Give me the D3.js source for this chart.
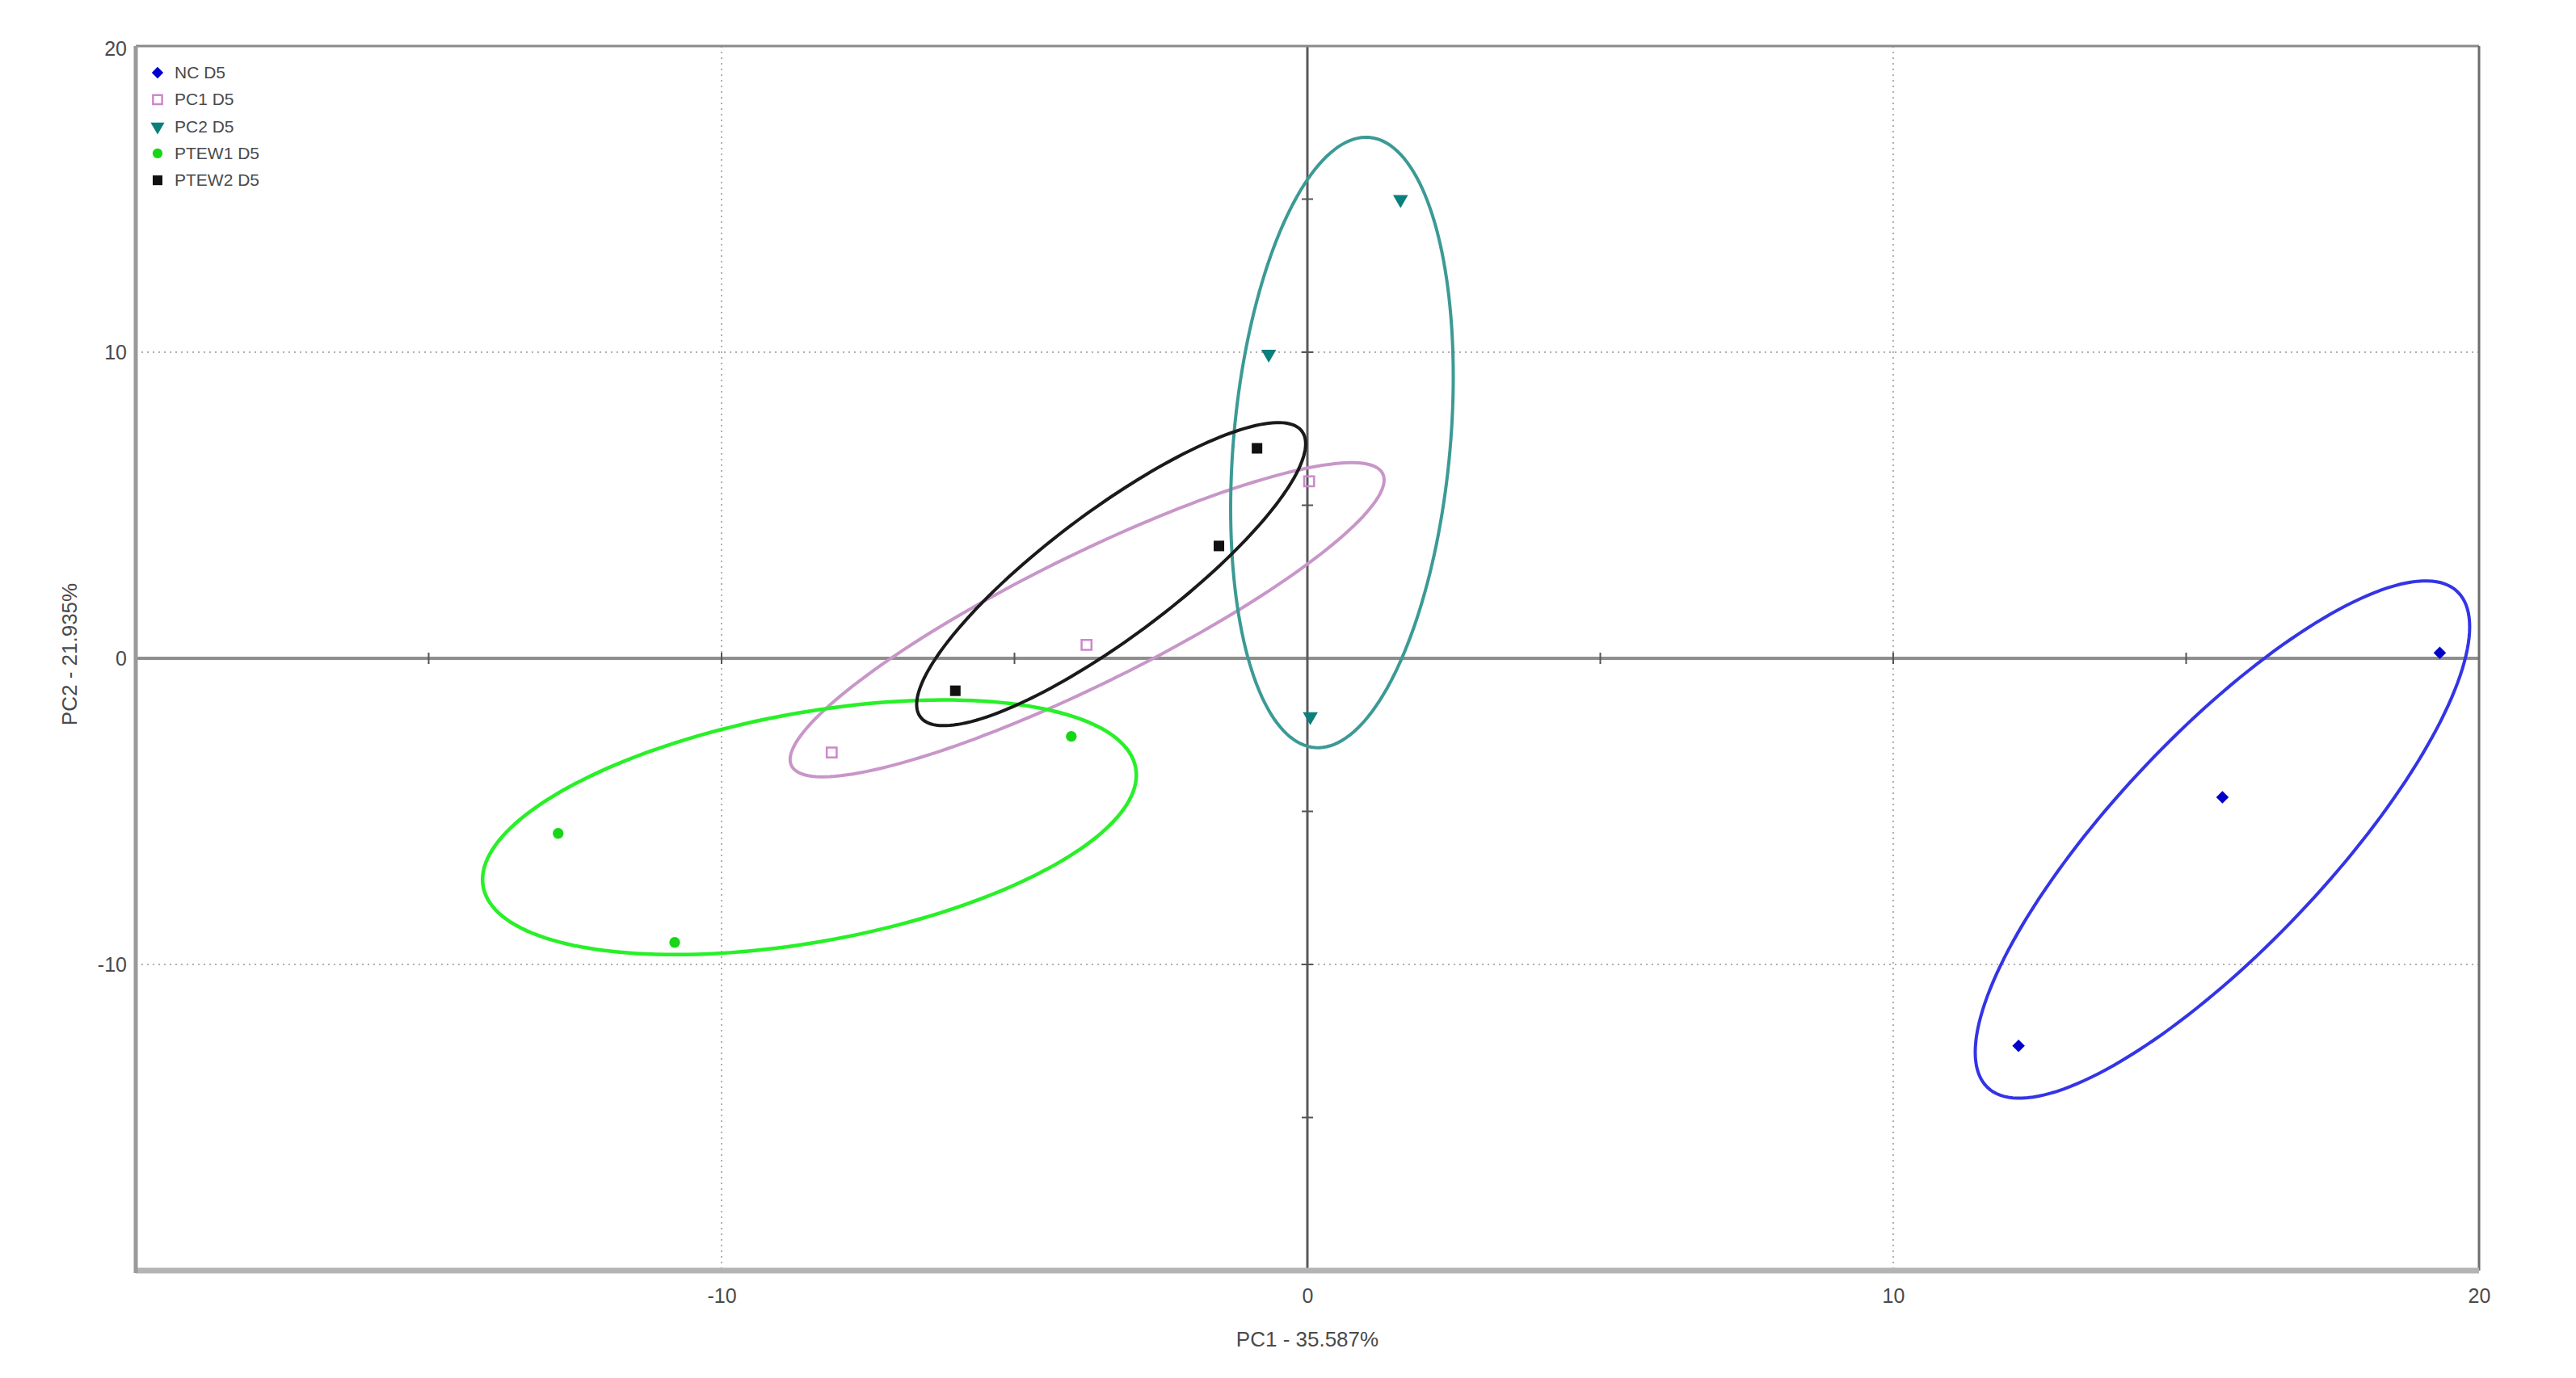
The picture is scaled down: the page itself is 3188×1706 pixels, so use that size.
<!DOCTYPE html>
<html>
<head>
<meta charset="utf-8">
<script src="https://cdn.jsdelivr.net/npm/d3@7"></script>
<style>
  html, body { margin: 0; padding: 0; background: #ffffff; }
  svg { display: block; }
</style>
</head>
<body>
<script>
// ---------------- data ----------------
const groups = ["NC D5", "PC1 D5", "PC2 D5", "PTEW1 D5", "PTEW2 D5"];
const pc1Values = [
  [19.33, 15.62, 12.14],
  [0.03, -3.77, -8.12],
  [1.59, -0.66, 0.05],
  [-12.79, -10.80, -4.03],
  [-0.86, -1.51, -6.01]
];
const pc2Values = [
  [0.18, -4.54, -12.66],
  [5.78, 0.44, -3.08],
  [14.99, 9.94, -1.90],
  [-5.72, -9.28, -2.55],
  [6.86, 3.67, -1.06]
];
// confidence ellipses (data units): centre, half-extent along PC1 / PC2, correlation
const ellipseCx  = [15.62, -3.76, 0.59, -8.50, -3.35];
const ellipseCy  = [-5.92, 1.26, 7.05, -5.52, 2.75];
const ellipseRx  = [4.22, 5.07, 1.90, 5.58, 3.32];
const ellipseRy  = [8.45, 5.13, 9.97, 4.16, 4.95];
const ellipseRho = [0.822, 0.89, 0.216, 0.41, 0.86];

const xTickValues = [-10, 0, 10, 20];
const yTickValues = [-10, 0, 10, 20];
const gridValues = [-10, 10];
const minorTickValues = [-15, -10, -5, 5, 10, 15];
const xTitle = "PC1 - 35.587%";
const yTitle = "PC2 - 21.935%";

// ---------------- styles ----------------
const markerColors  = ["#0000cc", "#cc88cc", "#0b7f7c", "#16d616", "#111111"];
const ellipseColors = ["#3434e6", "#c896c8", "#3c9a95", "#28f028", "#1a1a1a"];
const symbolTypes   = [d3.symbolSquare, d3.symbolSquare, d3.symbolTriangle, d3.symbolCircle, d3.symbolSquare];
const symbolSizes   = [120, 150, 150, 140, 170];
const symbolRotate  = [45, 0, 180, 0, 0];
const symbolFilled  = [true, false, true, true, true];

const W = 3188, H = 1706;
const L = 168, R = 3068, T = 57, B = 1573;

const svg = d3.select("body").append("svg").attr("width", W).attr("height", H);
const font = "'Liberation Sans', Arial, sans-serif";

const x = d3.scaleLinear().domain([-20, 20]).range([L, R]);
const y = d3.scaleLinear().domain([-20, 20]).range([B, T]);

// grid (dotted)
const grid = svg.append("g");
grid.selectAll("line.gx").data(gridValues).join("line")
  .attr("x1", d => x(d)).attr("x2", d => x(d)).attr("y1", T).attr("y2", B)
  .attr("stroke", "#b0b0b0").attr("stroke-width", 2).attr("stroke-dasharray", "2,5");
grid.selectAll("line.gy").data(gridValues).join("line")
  .attr("y1", d => y(d)).attr("y2", d => y(d)).attr("x1", L).attr("x2", R)
  .attr("stroke", "#b0b0b0").attr("stroke-width", 2).attr("stroke-dasharray", "2,5");

// zero axes
svg.append("line").attr("x1", L).attr("x2", R).attr("y1", y(0)).attr("y2", y(0))
  .attr("stroke", "#8e8e8e").attr("stroke-width", 4);
svg.append("line").attr("x1", x(0)).attr("x2", x(0)).attr("y1", T).attr("y2", B)
  .attr("stroke", "#5a5a5a").attr("stroke-width", 3);
// small ticks on zero axes
svg.append("g").selectAll("line").data(minorTickValues).join("line")
  .attr("x1", d => x(d)).attr("x2", d => x(d)).attr("y1", y(0) - 7).attr("y2", y(0) + 7)
  .attr("stroke", "#555").attr("stroke-width", 2);
svg.append("g").selectAll("line").data(minorTickValues).join("line")
  .attr("y1", d => y(d)).attr("y2", d => y(d)).attr("x1", x(0) - 7).attr("x2", x(0) + 7)
  .attr("stroke", "#555").attr("stroke-width", 2);

// frame
svg.append("line").attr("x1", L).attr("x2", R).attr("y1", T).attr("y2", T).attr("stroke", "#8a8a8a").attr("stroke-width", 3);
svg.append("line").attr("x1", R).attr("x2", R).attr("y1", T).attr("y2", B).attr("stroke", "#6e6e6e").attr("stroke-width", 3);
svg.append("line").attr("x1", L).attr("x2", R).attr("y1", B).attr("y2", B).attr("stroke", "#b4b4b4").attr("stroke-width", 7);
svg.append("line").attr("x1", L).attr("x2", L).attr("y1", T).attr("y2", B + 3).attr("stroke", "#9a9a9a").attr("stroke-width", 5);

// axes labels via d3 axes
const fmt = d => String(d);
const xAxis = svg.append("g").attr("transform", `translate(0,${B})`)
  .call(d3.axisBottom(x).tickValues(xTickValues).tickSize(0).tickPadding(22).tickFormat(fmt));
const yAxis = svg.append("g").attr("transform", `translate(${L},0)`)
  .call(d3.axisLeft(y).tickValues(yTickValues).tickSize(0).tickPadding(11).tickFormat(fmt));
[xAxis, yAxis].forEach(a => {
  a.select(".domain").remove();
  a.selectAll("text").attr("font-family", font).attr("font-size", 25).attr("fill", "#4a4a4a");
});
yAxis.selectAll("text").filter(d => d === 20).attr("dy", "0.45em");

svg.append("text").attr("x", x(0)).attr("y", 1667).attr("text-anchor", "middle")
  .attr("font-family", font).attr("font-size", 26).attr("fill", "#4a4a4a").text(xTitle);
svg.append("text").attr("transform", `translate(95,${y(0) - 5}) rotate(-90)`).attr("text-anchor", "middle")
  .attr("font-family", font).attr("font-size", 26).attr("fill", "#4a4a4a").text(yTitle);

// ellipses
const line = d3.line().x(p => x(p[0])).y(p => y(p[1])).curve(d3.curveLinearClosed);
const tSteps = d3.range(0, 360, 2).map(a => a * Math.PI / 180);
const ellG = svg.append("g");
groups.forEach((g, i) => {
  const s = Math.sqrt(1 - ellipseRho[i] * ellipseRho[i]);
  const pts = tSteps.map(t => [
    ellipseCx[i] + ellipseRx[i] * Math.cos(t),
    ellipseCy[i] + ellipseRy[i] * (ellipseRho[i] * Math.cos(t) + s * Math.sin(t))
  ]);
  ellG.append("path").attr("d", line(pts)).attr("fill", "none")
    .attr("stroke", ellipseColors[i]).attr("stroke-width", i === 3 ? 4.5 : 4);
});

// points
const ptG = svg.append("g");
groups.forEach((g, i) => {
  const sym = d3.symbol().type(symbolTypes[i]).size(symbolSizes[i]);
  const data = pc1Values[i].map((v, j) => [v, pc2Values[i][j]]);
  ptG.selectAll(null).data(data).join("path")
    .attr("d", sym)
    .attr("transform", d => `translate(${x(d[0])},${y(d[1])}) rotate(${symbolRotate[i]})`)
    .attr("fill", symbolFilled[i] ? markerColors[i] : "none")
    .attr("stroke", symbolFilled[i] ? "none" : markerColors[i])
    .attr("stroke-width", symbolFilled[i] ? 0 : 2.5);
});

// legend
const leg = svg.append("g");
groups.forEach((g, i) => {
  const cy = 90 + i * 33.3;
  const sym = d3.symbol().type(symbolTypes[i]).size(symbolSizes[i] * 0.85);
  leg.append("path").attr("d", sym)
    .attr("transform", `translate(195,${cy}) rotate(${symbolRotate[i]})`)
    .attr("fill", symbolFilled[i] ? markerColors[i] : "none")
    .attr("stroke", symbolFilled[i] ? "none" : markerColors[i])
    .attr("stroke-width", symbolFilled[i] ? 0 : 2.5);
  leg.append("text").attr("x", 216).attr("y", cy + 7)
    .attr("font-family", font).attr("font-size", 21).attr("fill", "#4a4a4a").text(g);
});
</script>
</body>
</html>
